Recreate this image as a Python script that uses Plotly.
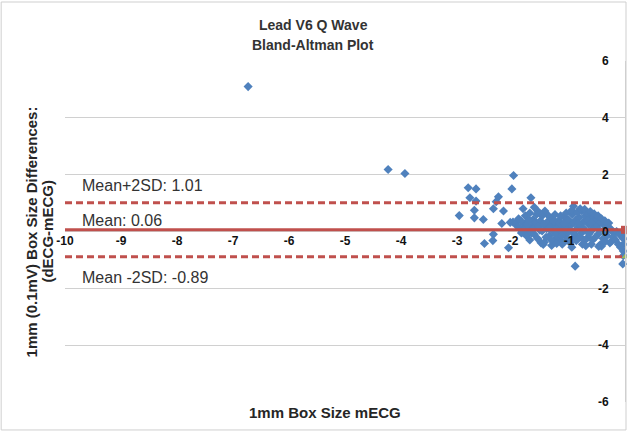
import plotly.graph_objects as go

# Bland-Altman data: x = mECG box size, y = dECG - mECG difference
mean_x = [
    -6.73, -4.23, -3.93,
    -2.96, -2.80, -2.66, -2.77, -2.66, -2.69, -2.69, -2.53, -2.51, -2.36, -2.35,
    -2.35, -2.30, -2.26, -2.20, -2.17, -2.08, -2.05,
    -1.99, -2.02, -2.00, -1.95, -1.90, -1.88, -1.85, -1.82, -1.80, -1.78, -1.76,
    -1.74, -1.72, -1.70, -1.68, -1.66, -1.64, -1.62, -1.60, -1.58, -1.56, -1.54,
    -1.52, -1.50,
    -1.46, -1.44, -1.43, -1.40, -1.38, -1.37, -1.35, -1.33, -1.31, -1.30, -1.28,
    -1.26, -1.24, -1.22, -1.20, -1.19, -1.18, -1.16, -1.14, -1.12, -1.10, -1.08,
    -1.06, -1.04, -1.02, -1.00,
    -0.98, -0.96, -0.94, -0.92, -0.90, -0.89, -0.88, -0.86, -0.84, -0.82, -0.80,
    -0.78, -0.77, -0.76, -0.74, -0.72, -0.70, -0.68, -0.66, -0.65, -0.63, -0.61,
    -0.59, -0.58, -0.56, -0.54, -0.52,
    -0.50, -0.48, -0.47, -0.45, -0.44, -0.42, -0.41, -0.38, -0.37, -0.34, -0.32,
    -0.30, -0.27, -0.27, -0.24, -0.23, -0.20, -0.15, -0.10,
    -0.03, -0.03, -0.03, -0.03, -0.03, -0.04,
    -1.92, -1.86, -1.83, -1.79, -1.75, -1.71, -1.67, -1.63, -1.59, -1.55, -1.51,
    -1.48, -1.45, -1.41, -1.36, -1.32, -1.27, -1.23, -1.17, -1.13, -1.09, -1.05,
    -1.01, -0.97, -0.93, -0.91, -0.87, -0.83, -0.79, -0.75, -0.71, -0.67, -0.64,
    -0.60, -0.57, -0.53, -0.49, -0.46, -0.43, -0.39, -0.35, -0.29, -0.25, -0.21,
    -0.17, -0.12, -0.08,
    -1.05, -0.95, -0.85, -0.80, -0.72, -0.62, -0.55, -0.48, -0.42, -0.36, -0.31,
    -1.25, -1.15, -1.55, -1.62, -1.48, -1.70, -1.12, -0.95, -0.70, -0.60, -1.22,
    -0.35,
]
diff_y = [
    5.10, 2.18, 2.04,
    0.56, 1.54, 1.50, 1.19, 1.07, 0.75, 0.48, 0.42, -0.42, -0.32, -0.10,
    0.80, 1.05, 1.22, 0.28, 0.72, -0.57, 0.32,
    1.97, 1.50, 0.33, 0.30, 0.45, 0.10, -0.05, 0.80, 0.25, 0.55, -0.15,
    0.35, 0.05, -0.30, 1.19, 0.20, 0.42, -0.10, 0.15, 0.60, -0.25, 0.30,
    0.05, -0.40,
    -0.46, -0.38, 0.72, 0.10, 0.35, 0.56, -0.15, 0.20, -0.49, 0.45, 0.00,
    -0.30, 0.28, 0.12, -0.10, -0.22, 0.40, 0.05, -0.35, 0.22, -0.05, 0.50,
    0.15, -0.20, 0.32, 0.00,
    -0.40, 0.25, 0.60, 0.89, -0.10, -1.22, 0.40, 0.10, -0.25, 0.50, 0.20,
    -0.05, 0.72, -0.45, 0.35, 0.05, 0.55, 0.66, -0.20, 0.25, 0.45, 0.00,
    0.60, -0.30, 0.52, 0.15, 0.40,
    0.45, -0.10, -0.53, 0.36, -0.46, -0.52, 0.30, 0.05, 0.25, 0.20, -0.15,
    0.15, -0.40, 0.10, -0.34, 0.01, -0.05, 0.00, -0.10,
    -0.05, -0.25, -0.45, -0.69, -0.85, -1.14,
    0.18, 0.38, -0.02, 0.12, 0.22, 0.40, -0.05, 0.10, 0.32, 0.18, 0.38,
    0.02, 0.25, -0.20, 0.12, -0.30, 0.35, -0.12, 0.30, -0.15, 0.28, -0.30,
    0.42, 0.05, -0.22, 0.30, -0.32, 0.28, -0.20, 0.12, -0.30, 0.38, -0.08,
    0.30, 0.10, -0.20, 0.22, 0.05, 0.32, -0.25, -0.05, 0.30, 0.08, -0.20,
    -0.30, -0.45, -0.55,
    0.65, 0.75, 0.68, 0.80, 0.78, 0.70, 0.62, 0.55, 0.45, 0.38, 0.28,
    0.60, 0.55, 0.70, 0.85, 0.55, 0.65, -0.45, -0.55, -0.50, -0.45, -0.42,
    -0.35,
]

mean_diff = 0.06
upper_loa = 1.01
lower_loa = -0.89
line_x = [-10, 0]

x_ticks = [-10, -9, -8, -7, -6, -5, -4, -3, -2, -1, 0]
y_ticks = [-6, -4, -2, 0, 2, 4, 6]

RED = "#C0504D"
BLUE = "#4F81BD"
GREEN = "#9BBB59"
GRID = "#D0D0D0"
FONT = "Liberation Sans"
TICKFONT = dict(family=FONT, size=12, color="#111111")

fig = go.Figure()
fig.add_trace(go.Scatter(x=mean_x, y=diff_y, mode="markers",
                         marker=dict(symbol="diamond", size=7, color=BLUE),
                         cliponaxis=False, showlegend=False))
fig.add_trace(go.Scatter(x=line_x, y=[upper_loa] * 2, mode="lines",
                         line=dict(color=RED, width=3, dash="7px,4px"),
                         showlegend=False))
fig.add_trace(go.Scatter(x=line_x, y=[lower_loa] * 2, mode="lines",
                         line=dict(color=RED, width=3, dash="7px,4px"),
                         showlegend=False))
fig.add_trace(go.Scatter(x=line_x, y=[mean_diff] * 2, mode="lines",
                         line=dict(color=RED, width=3), showlegend=False))
fig.add_trace(go.Scatter(x=[line_x[1]], y=[mean_diff], mode="markers",
                         marker=dict(symbol="square", size=8, color=RED),
                         cliponaxis=False, showlegend=False))
fig.add_trace(go.Scatter(x=[line_x[1]], y=[lower_loa], mode="markers",
                         marker=dict(symbol="triangle-up", size=6, color=GREEN),
                         cliponaxis=False, showlegend=False))

labels = [(upper_loa, f"Mean+2SD: {upper_loa:.2f}", 17),
          (mean_diff, f"Mean: {mean_diff:.2f}", 9),
          (lower_loa, f"Mean -2SD: {lower_loa:.2f}", -21)]
for yv, txt, shift in labels:
    fig.add_annotation(x=-9.74, y=yv, xref="x", yref="y", text=txt,
                       showarrow=False, xanchor="left", yanchor="middle",
                       yshift=shift, font=dict(family=FONT, size=16, color="#333333"))

# titles
fig.add_annotation(x=0.443, y=1.135, xref="paper", yref="paper",
                   text="<b>Lead V6 Q Wave</b>", showarrow=False,
                   font=dict(family=FONT, size=14, color="#333333"))
fig.add_annotation(x=0.443, y=1.076, xref="paper", yref="paper",
                   text="<b>Bland-Altman Plot</b>", showarrow=False,
                   font=dict(family=FONT, size=14, color="#333333"))
fig.add_annotation(x=0.464, y=-0.032, xref="paper", yref="paper",
                   text="<b>1mm Box Size mECG</b>", showarrow=False, yanchor="middle",
                   font=dict(family=FONT, size=15, color="#262626"))
fig.add_annotation(x=-0.059, y=0.5, xref="paper", yref="paper",
                   text="<b>1mm (0.1mV) Box Size Differences:</b>", textangle=-90,
                   showarrow=False, xanchor="center", yanchor="middle",
                   font=dict(family=FONT, size=15, color="#262626"))
fig.add_annotation(x=-0.032, y=0.5, xref="paper", yref="paper",
                   text="<b>(dECG-mECG)</b>", textangle=-90,
                   showarrow=False, xanchor="center", yanchor="middle",
                   font=dict(family=FONT, size=15, color="#262626"))

# outer chart border
fig.add_shape(type="rect", xref="paper", yref="paper",
              x0=-0.114, x1=1.0018, y0=-0.082, y1=1.173,
              line=dict(color="#CFCFCF", width=1))

fig.update_layout(
    width=627, height=433, autosize=False,
    margin=dict(l=65, r=2, t=61, b=31),
    paper_bgcolor="white", plot_bgcolor="white",
    font=dict(family=FONT, size=12, color="#111111"),
    xaxis=dict(range=[-10, 0], anchor="free", position=0.5, automargin=False,
               tickvals=x_ticks, ticktext=[f"<b>{v}</b>" for v in x_ticks],
               showgrid=False, zeroline=False,
               showline=False, ticks="", tickfont=TICKFONT),
    yaxis=dict(range=[-6, 6], anchor="free", position=1.0, side="left",
               automargin=False, ticklabelstandoff=14,
               tickvals=y_ticks, ticktext=[f"<b>{v}</b>" for v in y_ticks],
               showgrid=True, gridcolor=GRID, gridwidth=1,
               zeroline=False, showline=True, linecolor=GRID, linewidth=1,
               ticks="", tickfont=TICKFONT),
    showlegend=False,
)

# page body has a default 8px margin; drop it so the chart fills the window
fig.write_html("out.html", config={"displayModeBar": False},
               post_script="document.body.style.margin='0';"
                           "document.body.style.overflow='hidden';")
